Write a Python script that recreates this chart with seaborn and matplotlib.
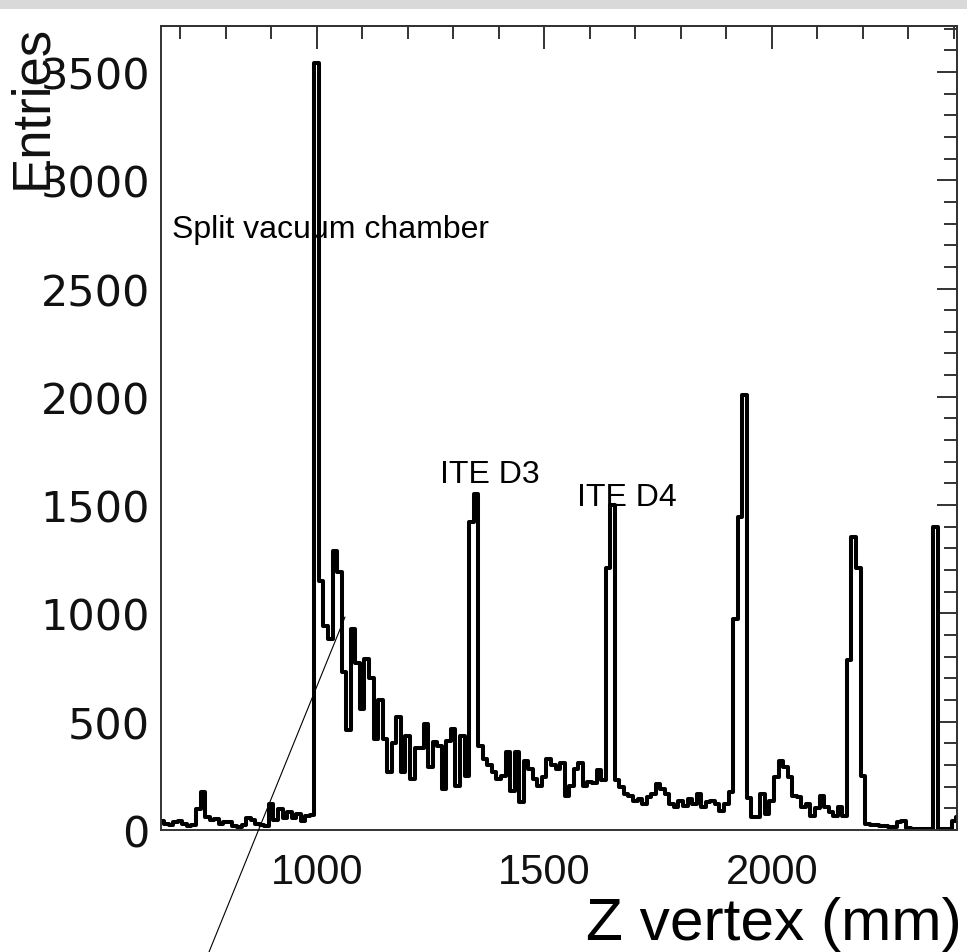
import matplotlib
matplotlib.use('Agg')
import matplotlib.pyplot as plt
import numpy as np
import pandas as pd
import seaborn as sns
from matplotlib.ticker import MultipleLocator
from matplotlib.lines import Line2D
from matplotlib.patches import Rectangle

# Z vertex histogram, 10 mm bins, first bin centred at 660 mm
Z_FIRST = 660
BIN_W = 10

counts_upstream = [40, 30, 25, 38, 42, 30, 20, 25, 95, 175,
                   60, 45, 50, 30, 35, 38, 20, 15, 25, 55,
                   45, 30, 22, 18, 120, 45, 95, 55, 85, 55,
                   75, 40, 65, 70]                                  # 660-990
counts_chamber = [3540, 1150, 940, 880, 1290, 1190, 730, 460, 930, 770,
                  560, 790, 700, 420, 600, 420, 266, 400, 520, 266,
                  435, 235, 380, 380, 490, 290, 405, 390, 190, 412,
                  466, 205, 435, 250]                               # 1000-1330
counts_d3 = [1420, 1550, 390, 330, 300, 270, 235, 250, 358, 180,
             358, 130, 320, 280, 235, 205, 243, 330, 300, 280,
             310, 158, 205, 280, 310, 205, 220, 215, 275, 230]     # 1340-1630
counts_d4 = [1210, 1500, 230, 200, 166, 158, 135, 143, 120, 151,
             166, 212, 190, 166, 120, 105, 135, 112, 143, 120,
             166, 105, 128, 135, 120, 89, 120, 174, 975]           # 1640-1920
counts_downstream = [1445, 2010, 150, 60, 58, 166, 74, 135, 243, 320,
                     290, 243, 158, 151, 105, 120, 66, 100, 158, 105,
                     82, 66, 105, 66, 785, 1355, 1210, 250, 28, 25,
                     22, 20, 18, 15, 12, 35, 43, 8, 5, 5,
                     5, 5, 5, 1400, 5, 5, 5, 43, 60]               # 1930-2410

counts = counts_upstream + counts_chamber + counts_d3 + counts_d4 + counts_downstream
z_centers = Z_FIRST + BIN_W * np.arange(len(counts))
z_range = (z_centers[0] - BIN_W / 2, z_centers[-1] + BIN_W / 2)

y_ticks = [0, 500, 1000, 1500, 2000, 2500, 3000, 3500]
y_ticklabels = ['0', '500', '1000', '1500', '2000', '2500', '3000', '3500']
labels = ['Split vacuum chamber', 'ITE D3', 'ITE D4']
label_x = [682, 1271, 1571]
label_y = [2738, 1607, 1500]

df = pd.DataFrame({'z': z_centers.astype(float), 'n': np.array(counts, dtype=float)})

sns.set_theme(style='white')
plt.rcParams['font.family'] = ['Liberation Sans', 'DejaVu Sans']

W, H = 967, 953
fig = plt.figure(figsize=(W / 100, H / 100), dpi=100)
fig.patch.set_facecolor('white')
ax = fig.add_axes([161 / W, 1 - 831 / H, (957 - 161) / W, (831 - 27) / H])

sns.histplot(data=df, x='z', weights='n', binwidth=BIN_W, binrange=z_range,
             element='step', fill=False, color='black', linewidth=2.9, ax=ax)

ax.set_xlim(658, 2407)
ax.set_ylim(0, 3712)
ax.set_xlabel('')
ax.set_ylabel('')

edge = '#333333'
for s in ax.spines.values():
    s.set_color(edge)
    s.set_linewidth(1.4)

ax.xaxis.set_major_locator(MultipleLocator(500))
ax.xaxis.set_minor_locator(MultipleLocator(100))
ax.set_yticks(y_ticks)
ax.set_yticklabels(y_ticklabels, fontfamily='DejaVu Sans')
ax.yaxis.set_minor_locator(MultipleLocator(100))

ax.tick_params(which='both', direction='in', color=edge, width=1.4, labelcolor='#111111')
ax.tick_params(axis='x', which='major', length=16.5, pad=16, labelsize=30)
ax.tick_params(axis='x', which='minor', length=9.4)
ax.tick_params(axis='y', which='major', length=19.4, pad=8, labelsize=31)
ax.tick_params(axis='y', which='minor', length=10)

# ticks on the top and right frame, no labels
secx = ax.secondary_xaxis('top')
secx.xaxis.set_major_locator(MultipleLocator(500))
secx.xaxis.set_minor_locator(MultipleLocator(100))
secx.tick_params(which='both', direction='in', color=edge, width=1.4,
                 labeltop=False, labelbottom=False)
secx.tick_params(which='major', length=16.5)
secx.tick_params(which='minor', length=9.4)
secy = ax.secondary_yaxis('right')
secy.yaxis.set_major_locator(MultipleLocator(500))
secy.yaxis.set_minor_locator(MultipleLocator(100))
secy.tick_params(which='both', direction='in', color=edge, width=1.4,
                 labelright=False, labelleft=False)
secy.tick_params(which='major', length=14.4)
secy.tick_params(which='minor', length=9.4)
for sa in (secx, secy):
    for s in sa.spines.values():
        s.set_color(edge)
        s.set_linewidth(1.4)

for txt, lx, ly in zip(labels, label_x, label_y):
    ax.text(lx, ly, txt, fontsize=23, va='baseline', ha='left', color='black')

fig.text(32 / W, 1 - 25 / H, 'Entries', rotation=90, fontsize=38,
         ha='center', va='top', color='#111111')
fig.text(962 / W, 1 - 940 / H, 'Z vertex (mm)', fontsize=43.5,
         ha='right', va='baseline', color='black')

# pointer line running out of the frame
fig.add_artist(Line2D([209 / W, 345 / W], [0, 1 - 618 / H],
                      transform=fig.transFigure, color='black', lw=0.8))
# grey strip along the top edge
fig.add_artist(Rectangle((0, 1 - 10 / H), 1, 10 / H, transform=fig.transFigure,
                         facecolor='#d9d9d9', edgecolor='none'))

fig.savefig('out.png', dpi=100)
